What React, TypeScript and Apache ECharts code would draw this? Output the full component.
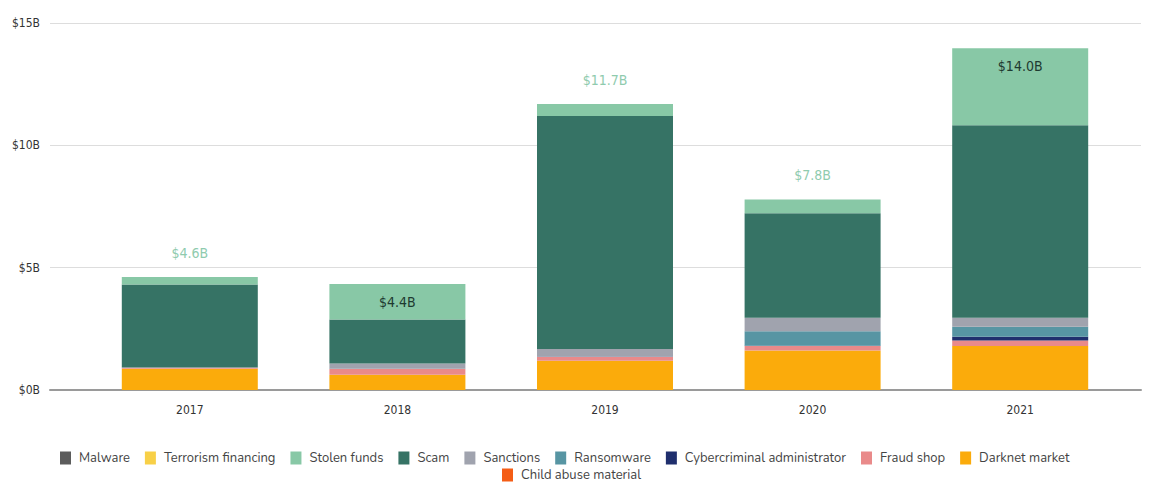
import React, { useEffect, useRef } from "react";
import * as echarts from "echarts";

const years = ["2017", "2018", "2019", "2020", "2021"];
const totalLabels = ["$4.6B", "$4.4B", "$11.7B", "$7.8B", "$14.0B"];
const labelInside = [false, true, false, false, true];

const darknetMarket = [0.87, 0.62, 1.2, 1.61, 1.8];
const fraudShop = [0.04, 0.24, 0.16, 0.19, 0.22];
const cyberAdmin = [0, 0, 0.01, 0.01, 0.16];
const ransomware = [0, 0.01, 0.01, 0.59, 0.41];
const sanctions = [0.01, 0.21, 0.3, 0.55, 0.36];
const scam = [3.39, 1.8, 9.52, 4.27, 7.87];
const stolenFunds = [0.31, 1.45, 0.49, 0.57, 3.15];
const terrorismFinancing = [0, 0, 0, 0, 0];
const malware = [0, 0, 0, 0, 0];
const childAbuse = [0, 0, 0, 0, 0];

const yTicks = [0, 5, 10, 15];

const seriesDefs = [
  { name: "Darknet market", data: darknetMarket, color: "#fbab0b" },
  { name: "Fraud shop", data: fraudShop, color: "#e98a8a" },
  { name: "Cybercriminal administrator", data: cyberAdmin, color: "#1f2f6d" },
  { name: "Ransomware", data: ransomware, color: "#5795a3" },
  { name: "Sanctions", data: sanctions, color: "#a0a3ae" },
  { name: "Scam", data: scam, color: "#367365" },
  { name: "Stolen funds", data: stolenFunds, color: "#88c8a6" },
  { name: "Terrorism financing", data: terrorismFinancing, color: "#f8d047" },
  { name: "Malware", data: malware, color: "#5c5c5c" },
  { name: "Child abuse material", data: childAbuse, color: "#f45d16" },
];

const legendRow1 = [
  "Malware",
  "Terrorism financing",
  "Stolen funds",
  "Scam",
  "Sanctions",
  "Ransomware",
  "Cybercriminal administrator",
  "Fraud shop",
  "Darknet market",
];
const legendRow2 = ["Child abuse material"];

const labelFont = "'Liberation Sans Narrow', 'DejaVu Sans Condensed', 'Roboto', sans-serif";
const legendFont = "'Nunito', 'Lato', 'Noto Sans', sans-serif";

export default function App() {
  const ref = useRef<HTMLDivElement>(null);
  useEffect(() => {
    document.body.style.margin = "0";
    if (!ref.current) return;
    const chart = echarts.init(ref.current, null, { renderer: "svg" });

    const series: any[] = seriesDefs.map((s) => {
      const base: any = {
        name: s.name,
        type: "bar",
        stack: "total",
        xAxisIndex: 1,
        yAxisIndex: 1,
        barWidth: 136,
        itemStyle: { color: s.color },
        emphasis: { disabled: true },
        data: s.data.slice(),
      };
      if (s.name === "Stolen funds") {
        base.data = s.data.map((v, i) => ({
          value: v,
          label: labelInside[i]
            ? {
                show: true,
                position: "insideTop",
                distance: 11,
                color: "#1e3a31",
                formatter: totalLabels[i],
              }
            : {
                show: true,
                position: "top",
                distance: 17,
                color: "#8fcbae",
                formatter: totalLabels[i],
              },
        }));
        base.label = {
          show: true,
          fontSize: 14,
          fontFamily: labelFont,
        };
      }
      return base;
    });

    const legendText = {
      color: "#444",
      fontSize: 13,
      lineHeight: 14,
      fontFamily: legendFont,
      padding: [0, 0, 0, 3],
    };

    chart.setOption({
      animation: false,
      color: seriesDefs.map((s) => s.color),
      grid: [
        { left: 50, right: 12, top: 23, bottom: 94 },
        { left: 86, right: 29, top: 23, bottom: 94 },
      ],
      xAxis: [
        {
          gridIndex: 0,
          type: "value",
          min: 0,
          max: 1,
          axisLine: { show: true, onZero: true, lineStyle: { color: "#9a9a9a", width: 2 } },
          axisTick: { show: false },
          axisLabel: { show: false },
          splitLine: { show: false },
        },
        {
          gridIndex: 1,
          type: "category",
          data: years,
          axisLine: { show: false },
          axisTick: { show: false },
          axisLabel: {
            color: "#333",
            fontSize: 12,
            margin: 14,
            fontFamily: labelFont,
          },
        },
      ],
      yAxis: [
        {
          gridIndex: 0,
          type: "value",
          min: yTicks[0],
          max: yTicks[yTicks.length - 1],
          interval: 5,
          axisLine: { show: false },
          axisTick: { show: false },
          axisLabel: {
            color: "#333",
            fontSize: 12,
            margin: 10,
            fontFamily: labelFont,
            formatter: (v: number) => "$" + v + "B",
          },
          splitLine: { show: true, lineStyle: { color: "#dddddd", width: 1 } },
        },
        {
          gridIndex: 1,
          type: "value",
          min: yTicks[0],
          max: yTicks[yTicks.length - 1],
          interval: 5,
          show: false,
          splitLine: { show: false },
        },
      ],
      legend: [
        {
          data: legendRow1,
          left: 55,
          top: 446,
          itemWidth: 11,
          itemHeight: 13,
          itemGap: 15,
          icon: "rect",
          selectedMode: false,
          textStyle: legendText,
        },
        {
          data: legendRow2,
          left: 497,
          top: 463,
          itemWidth: 11,
          itemHeight: 13,
          icon: "rect",
          selectedMode: false,
          textStyle: legendText,
        },
      ],
      series,
    });
    return () => chart.dispose();
  }, []);
  return <div ref={ref} style={{ width: 1153, height: 484 }} />;
}
